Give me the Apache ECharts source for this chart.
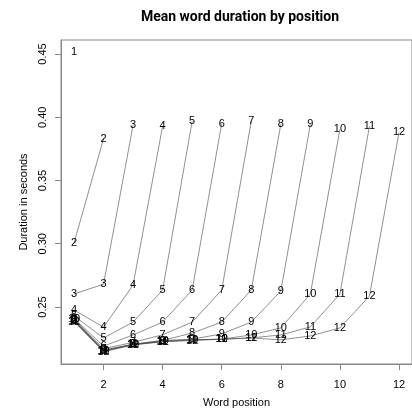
<!DOCTYPE html>
<html>
<head>
<meta charset="utf-8">
<script src="https://cdn.jsdelivr.net/npm/echarts@6/dist/echarts.min.js"></script>
<style>
html,body{margin:0;padding:0;background:#fff;}
#chart{width:412px;height:413px;}
</style>
</head>
<body>
<div id="chart"></div>
<script>
// Mean word duration (s) by word position, one line per utterance length n
var lengths = [1,2,3,4,5,6,7,8,9,10,11,12];
var dur1  = [0.4513];
var dur2  = [0.3005, 0.383];
var dur3  = [0.2603, 0.268, 0.3937];
var dur4  = [0.2476, 0.234, 0.2674, 0.393];
var dur5  = [0.243, 0.2255, 0.238, 0.2634, 0.397];
var dur6  = [0.241, 0.219, 0.2279, 0.238, 0.2634, 0.395];
var dur7  = [0.240, 0.217, 0.222, 0.228, 0.238, 0.2634, 0.397];
var dur8  = [0.2395, 0.216, 0.2205, 0.2235, 0.2294, 0.238, 0.2634, 0.3945];
var dur9  = [0.239, 0.2155, 0.2205, 0.2235, 0.2245, 0.2287, 0.238, 0.2626, 0.3945];
var dur10 = [0.2405, 0.2155, 0.220, 0.223, 0.224, 0.2245, 0.2279, 0.2334, 0.2603, 0.3905];
var dur11 = [0.239, 0.215, 0.2205, 0.2225, 0.224, 0.2245, 0.2255, 0.2279, 0.2342, 0.2603, 0.393];
var dur12 = [0.2385, 0.2145, 0.220, 0.2225, 0.2235, 0.2245, 0.2255, 0.224, 0.2271, 0.2334, 0.2587, 0.388];
var allDur = [dur1,dur2,dur3,dur4,dur5,dur6,dur7,dur8,dur9,dur10,dur11,dur12];
var xTicks = [2,4,6,8,10,12];
var yTicks = [0.25,0.30,0.35,0.40,0.45];

var FONT = 'Liberation Sans';
var series = lengths.map(function(n, i){
  return {
    type: 'line',
    name: String(n),
    data: allDur[i].map(function(v, j){ return [j+1, v]; }),
    symbol: 'circle',
    symbolSize: 1,
    showSymbol: true,
    itemStyle: {color: 'rgba(0,0,0,0)'},
    lineStyle: {color: '#444', width: 0.6},
    label: {
      show: true, position: 'inside', formatter: String(n),
      color: '#000', fontSize: 11, fontFamily: FONT
    },
    labelLayout: {hideOverlap: false},
    emphasis: {disabled: true},
    silent: true,
    z: 2
  };
});

var chart = echarts.init(document.getElementById('chart'), null, {renderer: 'canvas'});
chart.setOption({
  animation: false,
  backgroundColor: '#fff',
  title: {
    text: 'Mean word duration by position',
    left: 235, top: 5, textAlign: 'center',
    textStyle: {fontFamily: 'Roboto', fontWeight: 'bold', fontSize: 14, color: '#000'}
  },
  grid: {left: 61, top: 40, width: 361, height: 324, show: true, borderColor: '#888', borderWidth: 1, backgroundColor: 'transparent'},
  xAxis: {
    type: 'value', min: 0.56, max: 12.44,
    name: 'Word position', nameLocation: 'middle', nameGap: 33,
    nameTextStyle: {fontFamily: FONT, fontSize: 11, color: '#000'},
    axisLine: {show: true, onZero: false, lineStyle: {color: '#888', width: 1}},
    axisTick: {show: true, length: 6, customValues: xTicks, lineStyle: {color: '#888'}},
    axisLabel: {customValues: xTicks, margin: 15, fontFamily: FONT, fontSize: 11, color: '#000'},
    splitLine: {show: false}
  },
  yAxis: {
    type: 'value', min: 0.2049, max: 0.4611,
    name: 'Duration in seconds', nameLocation: 'middle', nameGap: 22,
    nameTextStyle: {fontFamily: FONT, fontSize: 11, color: '#000'},
    axisLine: {show: true, onZero: false, lineStyle: {color: '#888', width: 1}},
    axisTick: {show: true, length: 6, customValues: yTicks, lineStyle: {color: '#888'}},
    axisLabel: {customValues: yTicks, rotate: 90, margin: 13, fontFamily: FONT, fontSize: 11, color: '#000',
      formatter: function(v){ return v.toFixed(2); }},
    splitLine: {show: false}
  },
  series: series
});
</script>
</body>
</html>
